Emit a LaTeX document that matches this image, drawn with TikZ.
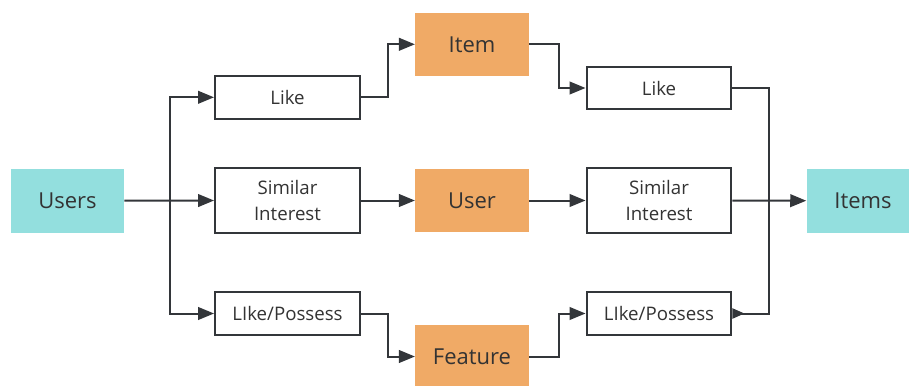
\documentclass[tikz,border=0pt]{standalone}
\usepackage{fontspec}
\setmainfont{Open Sans}
\usetikzlibrary{arrows.meta}
\definecolor{boxteal}{RGB}{147,223,222}
\definecolor{boxorange}{RGB}{240,170,102}
\definecolor{linegray}{RGB}{51,54,58}
\definecolor{textgray}{RGB}{51,51,51}
\tikzset{
  pathbox/.style={draw=linegray, line width=1.7pt, fill=white, text=textgray, minimum width=108.5pt, align=center, font=\fontsize{14}{19.5}\selectfont, inner sep=0pt},
  endbox/.style={fill=boxteal, text=textgray, minimum width=84.75pt, minimum height=48pt, font=\fontsize{16.5}{20}\selectfont, inner sep=0pt},
  midbox/.style={fill=boxorange, text=textgray, minimum width=85.25pt, minimum height=47.5pt, font=\fontsize{16.5}{20}\selectfont, inner sep=0pt},
  arr/.style={draw=linegray, line width=1.5pt, -{Triangle[length=12pt,width=9.5pt]}},
  joinline/.style={draw=linegray, line width=1.5pt}
}
\begin{document}
\begin{tikzpicture}[x=0.75pt,y=0.75pt,yscale=-1,xscale=1]
    \useasboundingbox (0,0) rectangle (909,385);

    % Text Node
    \node [endbox] (users) at (67.5,200.7) {Users};
    \node [endbox] (items) at (863,200.7) {Items};
    % Text Node
    \node [pathbox, minimum height=32pt] (like1) at (287.5,97.3) {Like};
    \node [pathbox, minimum height=48.75pt] (sim1) at (287.5,200.5) {Similar\\Interest};
    \node [pathbox, minimum height=32.25pt] (lp1) at (287.5,313.5) {LIke/Possess};
    % Text Node
    \node [midbox] (item) at (472,44.3) {Item};
    \node [midbox] (user) at (472,200.5) {User};
    \node [midbox] (feature) at (472,356.5) {Feature};
    % Text Node
    \node [pathbox, minimum height=32pt] (like2) at (659,88) {Like};
    \node [pathbox, minimum height=48.5pt] (sim2) at (659,200.5) {Similar\\Interest};
    \node [pathbox, minimum height=32.25pt] (lp2) at (659,313.5) {LIke/Possess};

    \coordinate (split) at (170,200.7);
    \coordinate (merge) at (769,200.7);

    %Straight Lines
    \draw [arr] (users.east) -- (sim1.west);
    \draw [arr] (split) |- (like1.west);
    \draw [arr] (split) |- (lp1.west);
    %Straight Lines
    \draw [arr] (like1.east) -- ++(26.7,0) |- (item.west);
    \draw [arr] (sim1.east) -- (user.west);
    \draw [arr] (lp1.east) -- ++(26.7,0) |- (feature.west);
    %Straight Lines
    \draw [arr] (item.east) -- ++(29.5,0) |- (like2.west);
    \draw [arr] (user.east) -- (sim2.west);
    \draw [arr] (feature.east) -- ++(29.5,0) |- (lp2.west);
    %Straight Lines
    \draw [joinline] (like2.east) -| (merge);
    \draw [joinline, {Triangle[reversed,length=9pt,width=7.5pt]}-] (lp2.east) -| (merge);
    \draw [arr] (sim2.east) -- (items.west);

\end{tikzpicture}
\end{document}
